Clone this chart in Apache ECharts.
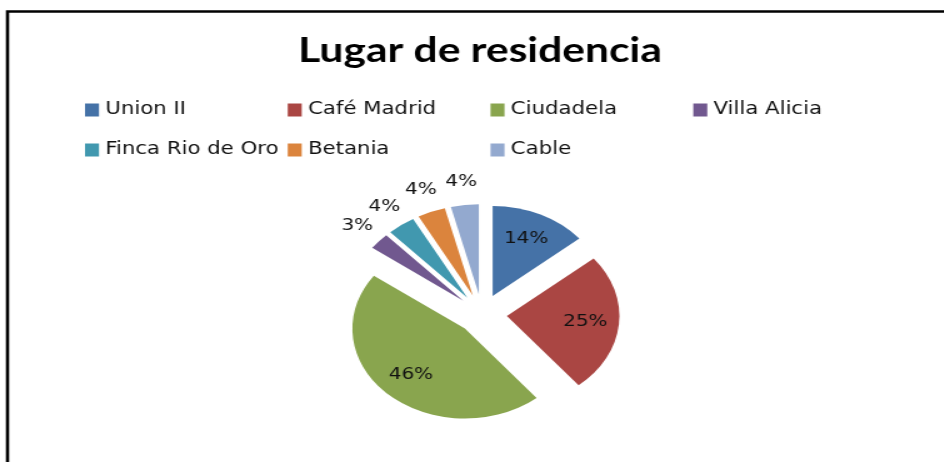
<!DOCTYPE html>
<html>
<head>
<meta charset="utf-8">
<script src="https://cdn.jsdelivr.net/npm/echarts@6/dist/echarts.min.js"></script>
<style>
  html, body { margin: 0; padding: 0; background: #fff; overflow: hidden; }
  /* the original picture is stretched sideways, so the chart is too */
  #main { width: 756px; height: 462px; transform: scaleX(1.25); transform-origin: 0 0; }
</style>
</head>
<body>
<div id="main"></div>
<script>
// datos del grafico
var chartTitle = "Lugar de residencia";
var categories = ["Union II", "Café Madrid", "Ciudadela", "Villa Alicia", "Finca Rio de Oro", "Betania", "Cable"];
var values = [14, 25, 46, 3, 4, 4, 4];
var colors = ["#4572A7", "#AA4643", "#89A54E", "#71588F", "#4198AF", "#DB843D", "#93A9CF"];

var pieCenter = [385.6, 314];
var labelFont = "DejaVu Sans";

function pieData() {
  return categories.map(function (name, i) {
    return { name: name, value: values[i], selected: true };
  });
}

// series que solo llevan las etiquetas (transparentes)
function labelSeries(radius, big) {
  return {
    type: "pie",
    radius: radius,
    center: pieCenter,
    startAngle: 90,
    clockwise: true,
    selectedMode: "multiple",
    selectedOffset: 20,
    silent: true,
    avoidLabelOverlap: false,
    labelLayout: { hideOverlap: false },
    itemStyle: { color: "rgba(0,0,0,0)", borderWidth: 0 },
    label: {
      show: true,
      position: "inside",
      overflow: "none",
      fontFamily: labelFont,
      fontSize: 16,
      color: "#111",
      formatter: function (p) {
        var isBig = p.value >= 10;
        return isBig === big ? Math.round(p.percent) + "%" : "";
      }
    },
    labelLine: { show: false },
    emphasis: { disabled: true },
    data: pieData()
  };
}

var myChart = echarts.init(document.getElementById("main"));
var option = {
  animation: false,
  color: colors,
  legend: {
    left: 68,
    top: 90,
    width: 660,
    padding: 0,
    itemGap: 0,
    itemWidth: 11.2,
    itemHeight: 13,
    icon: "rect",
    selectedMode: false,
    data: categories.map(function (name, i) {
      return { name: name, itemStyle: { color: colors[i] } };
    }),
    textStyle: {
      fontFamily: labelFont,
      fontSize: 17,
      color: "#111",
      width: 146,
      lineHeight: 40
    }
  },
  graphic: [
    {
      type: "rect",
      shape: { x: 6, y: 11.5, width: 800, height: 500 },
      style: { fill: "none", stroke: "#000", lineWidth: 2.6 },
      silent: true
    },
    {
      // titulo
      type: "text",
      x: 384,
      y: 51,
      silent: true,
      style: {
        text: chartTitle,
        align: "center",
        verticalAlign: "middle",
        fontFamily: '"Liberation Sans Narrow", Lato, sans-serif',
        fontWeight: "bold",
        fontSize: 34,
        fill: "#000"
      }
    }
  ],
  series: [
    {
      type: "pie",
      radius: 90,
      center: pieCenter,
      startAngle: 90,
      clockwise: true,
      selectedMode: "multiple",
      selectedOffset: 20,
      avoidLabelOverlap: false,
      itemStyle: { borderWidth: 0 },
      label: { show: false },
      labelLine: { show: false },
      emphasis: { disabled: true },
      data: pieData()
    },
    labelSeries([32, 88], true),
    labelSeries([98, 122], false)
  ]
};
myChart.setOption(option);
</script>
</body>
</html>
